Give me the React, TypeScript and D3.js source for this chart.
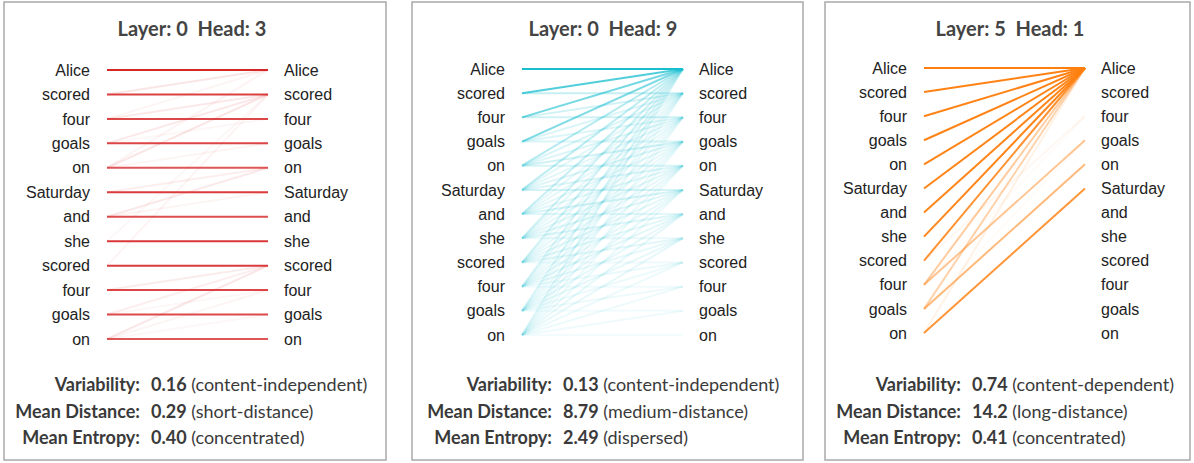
import React from 'react';
import * as d3 from 'd3';

// tokens shown on both sides of every head
const tokens = ['Alice', 'scored', 'four', 'goals', 'on', 'Saturday', 'and', 'she', 'scored', 'four', 'goals', 'on'];

const headTitles = ['Layer: 0  Head: 3', 'Layer: 0  Head: 9', 'Layer: 5  Head: 1'];
const headColors = ['#d62728', '#17becf', '#ff7f0e'];

// attention weights, row = left token, column = right token (causal)
const attnL0H3 = [
  [1],
  [0.12, 0.88],
  [0.05, 0.1, 0.85],
  [0.0, 0.1, 0.04, 0.86],
  [0.05, 0.12, 0.0, 0.05, 0.78],
  [0.0, 0.0, 0.0, 0.0, 0.08, 0.9],
  [0.0, 0.0, 0.0, 0.0, 0.1, 0.05, 0.82],
  [0.0, 0.04, 0.0, 0.0, 0.0, 0.0, 0.0, 0.92],
  [0.0, 0.05, 0.0, 0.0, 0.0, 0.0, 0.0, 0.0, 0.9],
  [0.0, 0.0, 0.0, 0.0, 0.0, 0.0, 0.0, 0.0, 0.09, 0.86],
  [0.0, 0.0, 0.0, 0.0, 0.0, 0.0, 0.0, 0.0, 0.08, 0.04, 0.84],
  [0.0, 0.0, 0.0, 0.0, 0.0, 0.0, 0.0, 0.0, 0.11, 0.05, 0.04, 0.78],
];

const attnL0H9 = [
  [1],
  [0.75, 0.25],
  [0.6, 0.2, 0.2],
  [0.55, 0.15, 0.15, 0.15],
  [0.32, 0.16, 0.15, 0.2, 0.17],
  [0.28, 0.12, 0.12, 0.15, 0.15, 0.18],
  [0.24, 0.1, 0.1, 0.12, 0.13, 0.18, 0.13],
  [0.2, 0.1, 0.1, 0.1, 0.12, 0.14, 0.15, 0.09],
  [0.18, 0.09, 0.09, 0.1, 0.1, 0.12, 0.13, 0.12, 0.07],
  [0.15, 0.1, 0.08, 0.09, 0.1, 0.1, 0.12, 0.11, 0.09, 0.06],
  [0.14, 0.08, 0.08, 0.09, 0.09, 0.1, 0.11, 0.1, 0.08, 0.08, 0.05],
  [0.12, 0.08, 0.07, 0.08, 0.08, 0.09, 0.1, 0.1, 0.08, 0.08, 0.07, 0.05],
];

const attnL5H1 = [
  [1],
  [0.98, 0.0],
  [0.97, 0.0, 0.0],
  [0.97, 0.0, 0.0, 0.0],
  [0.96, 0.0, 0.0, 0.0, 0.0],
  [0.96, 0.0, 0.0, 0.0, 0.0, 0.0],
  [0.95, 0.0, 0.0, 0.0, 0.0, 0.0, 0.0],
  [0.95, 0.0, 0.0, 0.0, 0.0, 0.0, 0.0, 0.0],
  [0.85, 0.0, 0.06, 0.0, 0.0, 0.0, 0.0, 0.0, 0.0],
  [0.4, 0.0, 0.03, 0.45, 0.0, 0.0, 0.0, 0.0, 0.0, 0.0],
  [0.35, 0.0, 0.0, 0.03, 0.55, 0.0, 0.0, 0.0, 0.0, 0.0, 0.0],
  [0.1, 0.0, 0.0, 0.0, 0.0, 0.82, 0.0, 0.0, 0.0, 0.0, 0.0, 0.0],
];

const attention = [attnL0H3, attnL0H9, attnL5H1];

const variability = ['0.16', '0.13', '0.74'];
const variabilityNote = ['content-independent', 'content-independent', 'content-dependent'];
const meanDistance = ['0.29', '8.79', '14.2'];
const distanceNote = ['short-distance', 'medium-distance', 'long-distance'];
const meanEntropy = ['0.40', '2.49', '0.41'];
const entropyNote = ['concentrated', 'dispersed', 'concentrated'];

// layout
const W = 1194;
const H = 463;
const frames = [
  { x0: 4, x1: 386, lineX: 107, rowTop: 70, rowBot: 339, titleX: 192, colonX: 140 },
  { x0: 412, x1: 803, lineX: 522, rowTop: 69, rowBot: 335, titleX: 603, colonX: 552 },
  { x0: 825, x1: 1190, lineX: 924, rowTop: 68, rowBot: 333, titleX: 1010, colonX: 961 },
];
const lineLen = 161;

const labelFont = '"Liberation Sans", Arial, Helvetica, sans-serif';
const statFont = 'Lato, "Open Sans", sans-serif';

const Head: React.FC<{ i: number }> = ({ i }) => {
  const f = frames[i];
  const color = headColors[i];
  const y = d3.scalePoint<number>().domain(d3.range(tokens.length)).range([f.rowTop, f.rowBot]);
  const x = d3.scaleLinear().domain([0, 1]).range([f.lineX, f.lineX + lineLen]);
  const links = attention[i].flatMap((row, src) =>
    row.map((w, dst) => ({ src, dst, w })).filter((d) => d.w > 0)
  );
  // faint lines under strong ones
  links.sort((a, b) => a.w - b.w);
  const line = d3.line<[number, number]>();

  const stats = [
    ['Variability:', variability[i], variabilityNote[i]],
    ['Mean Distance:', meanDistance[i], distanceNote[i]],
    ['Mean Entropy:', meanEntropy[i], entropyNote[i]],
  ];

  return (
    <g>
      <rect x={f.x0} y={2} width={f.x1 - f.x0} height={458} fill="#fff" stroke="#a9a9a9" strokeWidth={1.5} />
      <text
        x={f.titleX}
        y={36}
        textAnchor="middle"
        fontFamily={statFont}
        fontWeight={700}
        fontSize={20}
        fill="#444"
        style={{ whiteSpace: 'pre' }}
      >
        {headTitles[i]}
      </text>
      {links.map((d, k) => (
        <path
          key={k}
          d={line([[x(0), y(d.src)!], [x(1), y(d.dst)!]]) || ''}
          stroke={color}
          strokeOpacity={Math.min(1, d.w)}
          strokeWidth={2}
          fill="none"
        />
      ))}
      {tokens.map((t, k) => (
        <g key={k} fontFamily={labelFont} fontSize={16} fill="#222">
          <text x={x(0) - 17} y={y(k)!} dy="0.35em" textAnchor="end">{t}</text>
          <text x={x(1) + 16} y={y(k)!} dy="0.35em">{t}</text>
        </g>
      ))}
      {stats.map((s, k) => (
        <text key={k} y={385 + k * 26.5} dy="0.35em" fontFamily={statFont} fontSize={18} fill="#3a3a3a">
          <tspan x={f.colonX} textAnchor="end" fontWeight={700}>{s[0]}</tspan>
          <tspan x={f.colonX + 11} fontWeight={700}>{s[1]}</tspan>
          <tspan> ({s[2]})</tspan>
        </text>
      ))}
    </g>
  );
};

export default function App() {
  return (
    <svg width={W} height={H} style={{ position: 'absolute', left: 0, top: 0, display: 'block' }}>
      <rect width={W} height={H} fill="#fff" />
      {headTitles.map((_, i) => (
        <Head key={i} i={i} />
      ))}
    </svg>
  );
}
